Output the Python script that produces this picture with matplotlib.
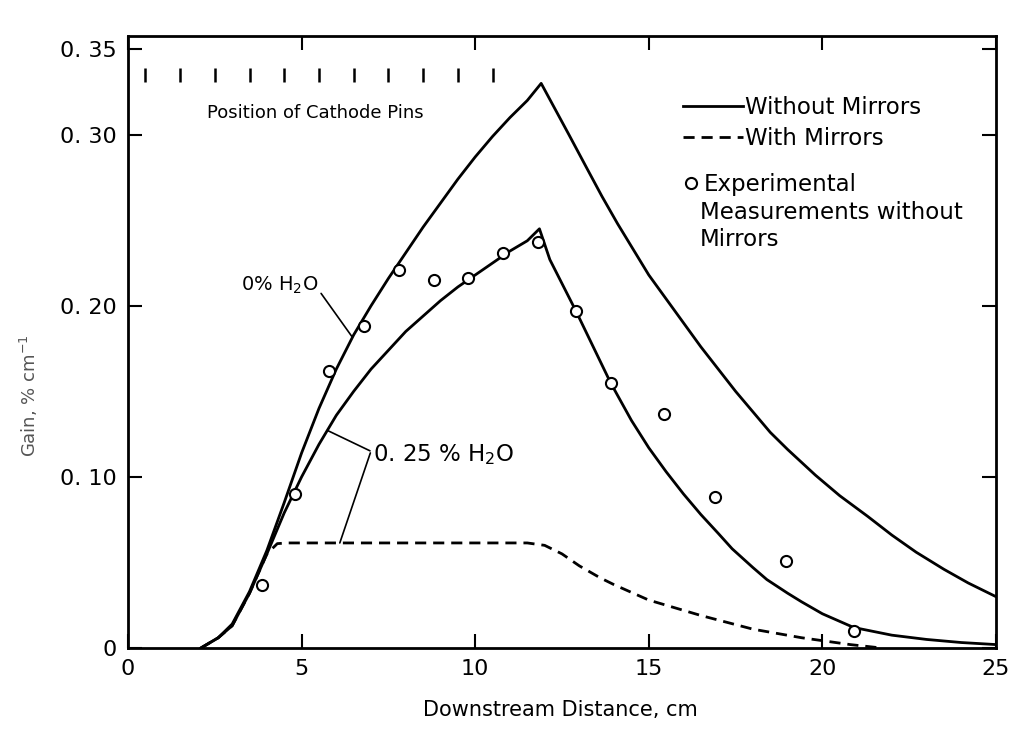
#! /usr/bin/env python3

import matplotlib
matplotlib.use("Agg")
import matplotlib.pyplot as plt

plt.rcParams['font.family'] = ['DejaVu Sans']

##
## Gain curves (x in cm, gain in %/cm)
##
x_no_water = [2.1, 2.6, 3.0, 3.5, 4.0, 4.5, 5.0, 5.5, 6.0, 6.5, 7.0, 7.5, 8.0,
              8.5, 9.0, 9.5, 10.0, 10.5, 11.0, 11.5, 11.9,
              12.3, 12.7, 13.2, 13.65, 14.1, 14.55, 15.0, 15.5, 16.0, 16.5,
              17.0, 17.5, 18.0, 18.5, 19.0, 19.8, 20.5, 21.3, 22.0, 22.7,
              23.5, 24.2, 25.0]
gain_no_water = [0.0, 0.006, 0.014, 0.033, 0.057, 0.085, 0.114, 0.140, 0.163,
                 0.183, 0.200, 0.216, 0.231, 0.246, 0.260, 0.274, 0.287, 0.299,
                 0.310, 0.320, 0.330,
                 0.315, 0.300, 0.281, 0.264, 0.248, 0.233, 0.218, 0.204,
                 0.190, 0.176, 0.163, 0.150, 0.138, 0.126, 0.116, 0.101,
                 0.089, 0.077, 0.066, 0.056, 0.046, 0.038, 0.030]

x_water = [2.1, 2.6, 3.0, 3.5, 4.0, 4.5, 5.0, 5.5, 6.0, 6.5, 7.0, 7.5, 8.0,
           8.5, 9.0, 9.5, 10.0, 10.5, 11.0, 11.5, 11.85,
           12.15, 12.5, 12.9, 13.4, 13.9, 14.5, 15.0, 15.5, 16.0, 16.5, 17.0,
           17.4, 18.0, 18.4, 19.0, 19.4, 20.0, 20.9, 22.0, 23.0, 24.0, 25.0]
gain_water = [0.0, 0.006, 0.013, 0.032, 0.055, 0.079, 0.100, 0.119, 0.136,
              0.150, 0.163, 0.174, 0.185, 0.194, 0.203, 0.211, 0.218, 0.225,
              0.232, 0.238, 0.245,
              0.227, 0.213, 0.197, 0.176, 0.155, 0.133, 0.117, 0.103, 0.090,
              0.078, 0.067, 0.058, 0.047, 0.040, 0.032, 0.027, 0.020, 0.012,
              0.0075, 0.005, 0.0032, 0.002]

x_mirrors = [2.1, 2.6, 3.0, 3.5, 4.0, 4.3, 4.6, 11.5, 12.0, 12.5, 13.0, 13.6,
             14.0, 15.0, 16.5, 18.0, 19.4, 20.8, 21.7]
gain_mirrors = [0.0, 0.006, 0.013, 0.032, 0.055, 0.061, 0.0614, 0.0614, 0.060,
                0.055, 0.048, 0.041, 0.037, 0.028, 0.019, 0.011, 0.006, 0.002,
                0.0]

##
## Experimental points (without mirrors)
##
x_meas = [3.85, 4.8, 5.8, 6.8, 7.8, 8.8, 9.8, 10.8, 11.8, 12.9, 13.9, 15.45,
          16.9, 18.95, 20.9]
gain_meas = [0.037, 0.090, 0.162, 0.188, 0.221, 0.215, 0.216, 0.231, 0.237,
             0.197, 0.155, 0.137, 0.088, 0.051, 0.010]

##
## Cathode pin positions
##
pin_x = [0.5, 1.5, 2.5, 3.5, 4.5, 5.5, 6.5, 7.5, 8.5, 9.5, 10.5]
pin_y = 0.335

x_ticks = [0, 5, 10, 15, 20, 25]
x_tick_labels = ['0', '5', '10', '15', '20', '25']
y_ticks = [0, 0.10, 0.20, 0.30, 0.35]
y_tick_labels = ['0', '0. 10', '0. 20', '0. 30', '0. 35']

figure = plt.figure(figsize=(10.1, 7.51), dpi=100)
ax = figure.add_axes([128/1010, 1 - 648/751, 868/1010, 612/751])

line_no_mirror, = ax.plot(x_no_water, gain_no_water, color='black', lw=2.0,
                          label='Without Mirrors')
ax.plot(x_water, gain_water, color='black', lw=2.0)
line_mirror, = ax.plot(x_mirrors, gain_mirrors, color='black', lw=2.0,
                       linestyle=(0, (4, 2.5)), label='With Mirrors')
meas, = ax.plot(x_meas, gain_meas, 'o', ms=8, mfc='white', mec='black',
                mew=1.5, label='Experimental')

ax.plot(pin_x, [pin_y] * len(pin_x), '|', color='black', ms=10, mew=1.8)
ax.text(2.28, 0.3127, 'Position of Cathode Pins', fontsize=13, va='center')

##
## Labels on the curves
##
ax.annotate('0% H$_2$O', xy=(6.45, 0.182), xytext=(3.25, 0.212), fontsize=14,
            va='center', arrowprops=dict(arrowstyle='-', lw=1.2,
                                         shrinkA=0, shrinkB=0,
                                         relpos=(1.0, 0.3)))
ax.annotate('0. 25 % H$_2$O', xy=(5.76, 0.127), xytext=(7.05, 0.113),
            fontsize=16.5, va='center',
            arrowprops=dict(arrowstyle='-', lw=1.2, shrinkA=0, shrinkB=0,
                            relpos=(0.0, 0.6)))
ax.annotate('', xy=(6.1, 0.0614), xytext=(6.98, 0.114),
            arrowprops=dict(arrowstyle='-', lw=1.2, shrinkA=0, shrinkB=0))

leg1 = ax.legend(handles=[line_no_mirror, line_mirror], loc='upper left',
                 bbox_to_anchor=(683/1010, 1 - 96/751),
                 bbox_transform=figure.transFigure, frameon=False,
                 fontsize=16.5, handlelength=2.6, handletextpad=0.1,
                 borderpad=0, borderaxespad=0, labelspacing=0.35)
ax.add_artist(leg1)
ax.legend(handles=[meas], loc='upper left',
          bbox_to_anchor=(684/1010, 1 - 173/751),
          bbox_transform=figure.transFigure, frameon=False,
          fontsize=16.5, handlelength=0.6, handletextpad=0.25,
          borderpad=0, borderaxespad=0)
figure.text(700/1010, 1 - 226/751, 'Measurements without\nMirrors',
            fontsize=16.5, va='center', ha='left', linespacing=1.25)

ax.set_xlim(0, 25)
ax.set_ylim(0, 612/1711)
ax.set_xticks(x_ticks)
ax.set_xticklabels(x_tick_labels)
ax.set_yticks(y_ticks)
ax.set_yticklabels(y_tick_labels)
ax.tick_params(direction='in', length=10, width=1.5, top=True, right=True,
               labelsize=16, pad=8)
for spine in ax.spines.values():
    spine.set_linewidth(2.0)

ax.set_xlabel('Downstream Distance, cm', fontsize=15)
ax.xaxis.set_label_coords(0.498, -0.085)
ax.set_ylabel('Gain, % cm$^{-1}$', fontsize=13, color='#555555')
ax.yaxis.set_label_coords(-0.101, 0.413)

figure.savefig('out.png', dpi=100)
